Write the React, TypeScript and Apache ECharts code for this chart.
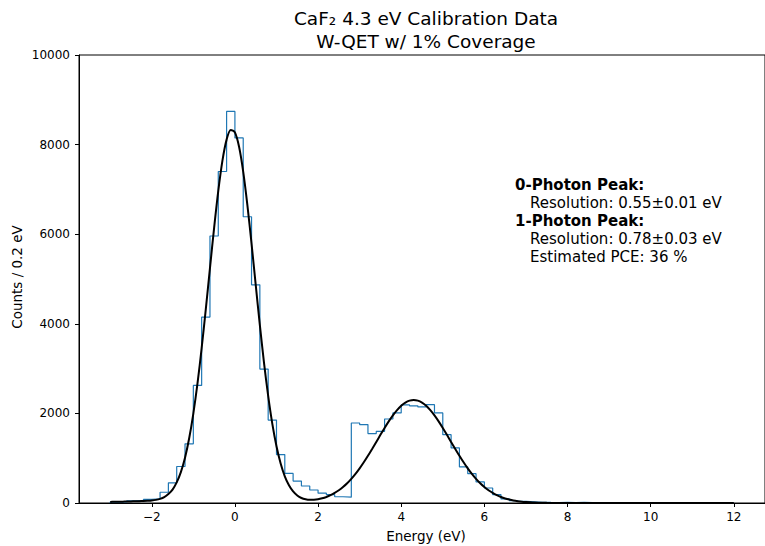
import React, { useEffect, useRef } from "react";
import * as echarts from "echarts";

// Histogram: 0.2 eV bins from -3 to 12 eV
const binStart = -3;
const binWidth = 0.2;
const counts = [
  20, 25, 50, 60, 80, 95, 240, 450, 815, 1320,
  2625, 4150, 5960, 7400, 8740, 8150, 6390, 4870, 2990, 1850,
  1080, 660, 490, 380, 290, 220, 185, 140, 130, 1786,
  1750, 1550, 1600, 1875, 2010, 2190, 2170, 2145, 2195, 2010,
  1525, 1230, 805, 655, 470, 335, 185, 90, 55, 35,
  25, 15, 12, 10, 15, 10, 12, 8, 10, 5,
  3, 2, 4, 2, 1, 2, 1, 0, 1, 0,
  0, 1, 0, 0, 0,
];

// Fit curve read at 0.1 eV steps from -3.0 to 7.6, then sparse tail
const fitX = [
  -3.0, -2.9, -2.8, -2.7, -2.6, -2.5, -2.4, -2.3, -2.2, -2.1,
  -2.0, -1.9, -1.8, -1.7, -1.6, -1.5, -1.4, -1.3, -1.2, -1.1,
  -1.0, -0.9, -0.8, -0.7, -0.6, -0.5, -0.4, -0.3, -0.2, -0.1,
  0.0, 0.1, 0.2, 0.3, 0.4, 0.5, 0.6, 0.7, 0.8, 0.9,
  1.0, 1.1, 1.2, 1.3, 1.4, 1.5, 1.6, 1.7, 1.8, 1.9,
  2.0, 2.1, 2.2, 2.3, 2.4, 2.5, 2.6, 2.7, 2.8, 2.9,
  3.0, 3.1, 3.2, 3.3, 3.4, 3.5, 3.6, 3.7, 3.8, 3.9,
  4.0, 4.1, 4.2, 4.3, 4.4, 4.5, 4.6, 4.7, 4.8, 4.9,
  5.0, 5.1, 5.2, 5.3, 5.4, 5.5, 5.6, 5.7, 5.8, 5.9,
  6.0, 6.1, 6.2, 6.3, 6.4, 6.5, 6.6, 6.7, 6.8, 6.9,
  7.0, 7.1, 7.2, 7.3, 7.4, 7.5, 7.6, 8.0, 9.0, 10.0,
  11.0, 12.0,
];
const fitY = [
  25, 26, 28, 30, 32, 35, 38, 41, 45, 50,
  57, 70, 92, 130, 200, 300, 460, 690, 1010, 1444,
  1997, 2670, 3456, 4328, 5242, 6143, 6966, 7642, 8111, 8328,
  8272, 7951, 7393, 6651, 5789, 4875, 3971, 3130, 2390, 1765,
  1265, 880, 595, 395, 258, 168, 112, 82, 70, 72,
  83, 105, 135, 174, 224, 284, 356, 440, 538, 649,
  773, 908, 1053, 1206, 1363, 1521, 1676, 1823, 1957, 2074,
  2170, 2241, 2285, 2300, 2285, 2241, 2170, 2074, 1957, 1823,
  1676, 1521, 1363, 1206, 1053, 908, 773, 649, 538, 440,
  356, 284, 224, 174, 133, 101, 76, 56, 41, 29,
  21, 15, 10, 7, 5, 3, 2, 1, 0, 0,
  0, 0,
];

const xTicks = [-2, 0, 2, 4, 6, 8, 10, 12];
const titleLines = ["CaF\u2082 4.3 eV Calibration Data", "W-QET w/ 1% Coverage"];
const xLabel = "Energy (eV)";
const yLabel = "Counts / 0.2 eV";
const annotation = [
  { text: "0-Photon Peak:", bold: true },
  { text: "Resolution: 0.55\u00b10.01 eV", bold: false },
  { text: "1-Photon Peak:", bold: true },
  { text: "Resolution: 0.78\u00b10.03 eV", bold: false },
  { text: "Estimated PCE: 36 %", bold: false },
];

const FONT = "DejaVu Sans";

export default function App() {
  const ref = useRef<HTMLDivElement>(null);
  useEffect(() => {
    if (!ref.current) return;
    const chart = echarts.init(ref.current, undefined, { renderer: "svg" });

    const histData: number[][] = [];
    histData.push([binStart, 0]);
    counts.forEach((c, i) => histData.push([binStart + i * binWidth, c]));
    const endX = binStart + counts.length * binWidth;
    histData.push([endX, counts[counts.length - 1]]);
    histData.push([endX, 0]);

    const fitData = fitX.map((x, i) => [x, fitY[i]]);

    const fmtX = (v: number) => (v < 0 ? "\u2212" + Math.abs(v) : String(v));
    const fmtY = (v: number) => String(v);

    const graphics: any[] = [
      {
        type: "text",
        x: 426,
        y: 18,
        style: { text: titleLines[0], font: `18.5px "${FONT}"`, fill: "#000", textAlign: "center", textVerticalAlign: "middle" },
      },
      {
        type: "text",
        x: 426,
        y: 41,
        style: { text: titleLines[1], font: `18.5px "${FONT}"`, fill: "#000", textAlign: "center", textVerticalAlign: "middle" },
      },
      {
        type: "text",
        x: 426,
        y: 536,
        style: { text: xLabel, font: `13.5px "${FONT}"`, fill: "#000", textAlign: "center", textVerticalAlign: "middle" },
      },
      {
        type: "text",
        x: 17,
        y: 277,
        rotation: Math.PI / 2,
        style: { text: yLabel, font: `13.5px "${FONT}"`, fill: "#000", textAlign: "center", textVerticalAlign: "middle" },
      },
    ];
    const annY = [185, 203, 221, 239, 257];
    annotation.forEach((a, i) => {
      graphics.push({
        type: "text",
        x: a.bold ? 515 : 530,
        y: annY[i],
        style: {
          text: a.text,
          font: `${a.bold ? "bold " : ""}15px "${FONT}"`,
          fill: "#000",
          textAlign: "left",
          textVerticalAlign: "middle",
        },
      });
    });

    chart.setOption({
      animation: false,
      grid: {
        left: 79,
        top: 55,
        width: 694,
        height: 448,
        show: true,
        borderColor: "#000",
        borderWidth: 1,
        backgroundColor: "transparent",
      },
      xAxis: {
        type: "value",
        min: -3.75,
        max: 12.75,
        axisLine: { show: true, onZero: false, lineStyle: { color: "#000", width: 1 } },
        axisTick: { show: true, customValues: xTicks, length: 4, lineStyle: { color: "#000" } },
        axisLabel: {
          customValues: xTicks,
          formatter: fmtX,
          fontSize: 12,
          fontFamily: FONT,
          color: "#000",
          margin: 8,
        },
        splitLine: { show: false },
      },
      yAxis: {
        type: "value",
        min: 0,
        max: 10000,
        interval: 2000,
        axisLine: { show: true, onZero: false, lineStyle: { color: "#000", width: 1 } },
        axisTick: { show: true, length: 4, lineStyle: { color: "#000" } },
        axisLabel: { formatter: fmtY, fontSize: 12, fontFamily: FONT, color: "#000", margin: 9 },
        splitLine: { show: false },
      },
      graphic: graphics,
      series: [
        {
          type: "line",
          data: histData,
          step: "end",
          showSymbol: false,
          symbol: "none",
          lineStyle: { color: "#1f77b4", width: 1.2 },
          z: 2,
        },
        {
          type: "line",
          data: fitData,
          smooth: 0.3,
          showSymbol: false,
          symbol: "none",
          lineStyle: { color: "#000", width: 2 },
          z: 3,
        },
      ],
    });
    return () => chart.dispose();
  }, []);

  return (
    <div
      ref={ref}
      style={{ position: "fixed", left: 0, top: 0, width: 765, height: 546, background: "#fff" }}
    />
  );
}
